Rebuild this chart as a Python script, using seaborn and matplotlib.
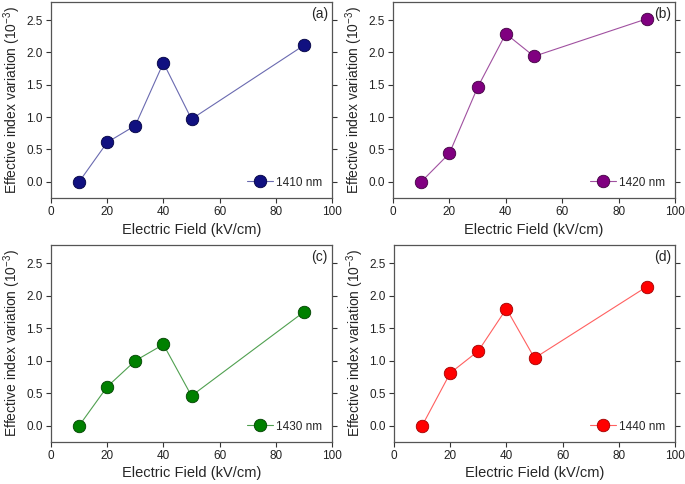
import numpy as np
import pandas as pd
import matplotlib.pyplot as plt
import seaborn as sns

# ── Data ──────────────────────────────────────────────────
field = [10, 20, 30, 40, 50, 90]
dn_1410 = [0.0, 0.61, 0.87, 1.84, 0.97, 2.11]
dn_1420 = [0.0, 0.44, 1.46, 2.29, 1.94, 2.52]
dn_1430 = [0.0, 0.60, 1.00, 1.25, 0.46, 1.75]
dn_1440 = [0.0, 0.81, 1.15, 1.80, 1.04, 2.14]

series = [dn_1410, dn_1420, dn_1430, dn_1440]
names = ['1410 nm', '1420 nm', '1430 nm', '1440 nm']
tags = ['(a)', '(b)', '(c)', '(d)']
colors = ['#101080', '#800080', '#008000', '#ff0000']
edges = ['#000040', '#400040', '#004000', '#a00000']
line_colors = ['#6a6ab0', '#a050a0', '#50a050', '#ff6060']

sns.set_style('ticks')
plt.rcParams['font.family'] = ['Liberation Sans', 'DejaVu Sans']
plt.rcParams['mathtext.fontset'] = 'custom'
plt.rcParams['mathtext.rm'] = 'Liberation Sans'
plt.rcParams['mathtext.it'] = 'Liberation Sans'

fig = plt.figure(figsize=(6.85, 4.84), dpi=100)
W, H = 685, 484
boxes = [(51, 2, 332, 198), (393, 2, 675, 198),
         (51, 245, 332, 442), (394, 245, 675, 442)]

for i, (vals, name, tag, c, ec, lc) in enumerate(zip(series, names, tags, colors, edges, line_colors)):
    x0, y0, x1, y1 = boxes[i]
    ax = fig.add_axes([x0 / W, 1 - y1 / H, (x1 - x0) / W, (y1 - y0) / H])
    df = pd.DataFrame({'field': field, 'dn': vals})
    sns.lineplot(data=df, x='field', y='dn', ax=ax, color=c, lw=0.8,
                 marker='o', markersize=9, markerfacecolor=c,
                 markeredgecolor=ec, markeredgewidth=0.6, label=name)
    ax.lines[0].set_color(lc)
    ax.set_xlim(0, 100)
    ax.set_ylim(-0.25, 2.78)
    ax.set_xticks([0, 20, 40, 60, 80, 100])
    ax.set_yticks([0.0, 0.5, 1.0, 1.5, 2.0, 2.5])
    ax.set_yticklabels([f'{v:.1f}' for v in [0.0, 0.5, 1.0, 1.5, 2.0, 2.5]])
    ax.tick_params(axis='both', labelsize=8.5, length=3.5, width=0.8,
                   colors='#333333', labelcolor='#222222', pad=2.5)
    ax.tick_params(right=True, top=False, which='both')
    for s in ax.spines.values():
        s.set_linewidth(0.9)
        s.set_color('#555555')
    ax.set_xlabel('Electric Field (kV/cm)', fontsize=10.5, labelpad=3)
    ax.set_ylabel('Effective index variation (10$^{-3}$)', fontsize=10, labelpad=2)
    ax.text(0.985, 0.975, tag, transform=ax.transAxes, ha='right', va='top',
            fontsize=10)
    leg = ax.legend(loc='lower right', frameon=False, fontsize=8.5,
                    handlelength=2.2, handletextpad=0.3, borderaxespad=0.4)

fig.savefig('out.png', dpi=100)
